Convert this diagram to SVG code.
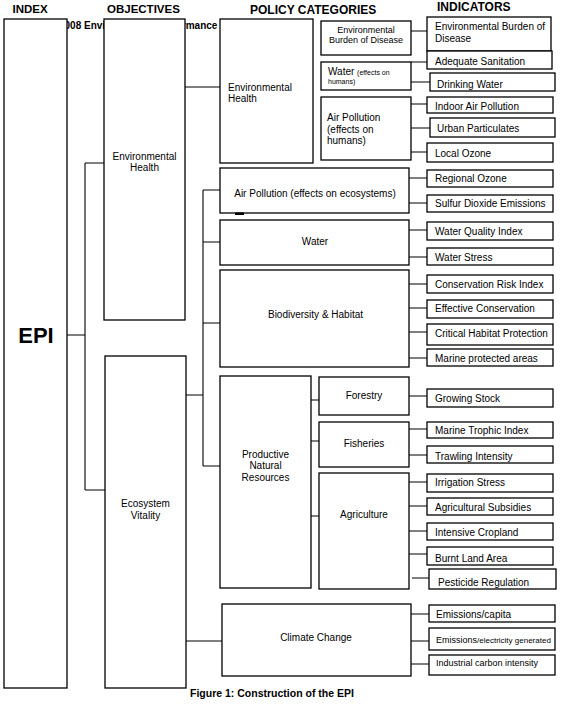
<svg xmlns="http://www.w3.org/2000/svg" width="568" height="712" viewBox="0 0 568 712">
<style>
text{font-family:"Liberation Sans",Arial,sans-serif;font-size:10px;fill:#000}
.h{font-weight:bold;font-size:11.5px}
.b{font-weight:bold}
.c{text-anchor:middle}
.box{fill:#fff;stroke:#000;stroke-width:1.3}
.ln{fill:none;stroke:#000;stroke-width:1.1}
.s9{font-size:9px}
.s7{font-size:7px}
</style>
<rect width="568" height="712" fill="#fff"/>
<g id="headers">
<text class="h" x="12.5" y="12.5">INDEX</text>
<text class="h" x="107" y="12.5">OBJECTIVES</text>
<text class="h" x="250" y="13.5" style="font-size:12px">POLICY CATEGORIES</text>
<text class="h" x="437" y="10.5" style="font-size:12px">INDICATORS</text>
</g>
<text class="b" x="59" y="29">2008 Environmental Performance Index</text>
<g id="connectors">
<path class="ln" d="M67 335H85M85 163V490M85 163H104M85 490H105"/>
<path class="ln" d="M185 87H220"/>
<path class="ln" d="M186 395H203M203 190V466M203 190H220M203 242H220M203 323H220M203 466H220"/>
<path class="ln" d="M186 641H222"/>
<path class="ln" d="M311 400H319M311 441H319M311 516H319"/>
<path class="ln" d="M411 31H427M411 62H427M411 82H430M411 104H427M411 128H430M411 152H427"/>
<path class="ln" d="M409 178H427M409 203H427M409 230H427M409 257H427M409 284H427M409 308H427M409 332H427M409 358H427"/>
<path class="ln" d="M409 396H427M409 429H427M409 455H427M409 482H427M409 506H427M409 531H427M409 554H427M412 578H429"/>
<path class="ln" d="M411 614H429M411 641H429M411 664H429"/>
</g>
<g id="epi"><rect class="box" x="4" y="19" width="63" height="669"/><text class="b c" x="36" y="343" style="font-size:22px">EPI</text></g>
<g id="obj-eh"><rect class="box" x="104" y="19" width="81" height="301"/><text class="c" x="144.5" y="159.5">Environmental</text><text class="c" x="144.5" y="170.5">Health</text></g>
<g id="obj-ev"><rect class="box" x="105" y="356" width="81" height="332"/><text class="c" x="145.5" y="506.5">Ecosystem</text><text class="c" x="145.5" y="518.5">Vitality</text></g>
<g id="pol-eh"><rect class="box" x="220" y="19" width="93" height="144"/><text x="228" y="90.5">Environmental</text><text x="228" y="101.5">Health</text></g>
<g id="pol-ebd"><rect class="box" x="321" y="21" width="90" height="34"/><text class="c s9" x="366" y="33">Environmental</text><text class="c s9" x="366" y="43">Burden of Disease</text></g>
<g id="pol-wh"><rect class="box" x="321" y="62" width="90" height="28"/><text x="328" y="75">Water <tspan class="s7">(effects on</tspan></text><text class="s7" x="328" y="84">humans)</text></g>
<g id="pol-aph"><rect class="box" x="321" y="97" width="90" height="63"/><text x="327" y="121">Air Pollution</text><text x="327" y="132.5">(effects on</text><text x="327" y="144">humans)</text></g>
<g id="pol-ape"><rect class="box" x="220" y="168" width="189" height="45"/><text class="c" x="315" y="196.5">Air Pollution (effects on ecosystems)</text></g>
<rect x="235" y="212.5" width="9" height="2.5" fill="#000"/>
<g id="pol-water"><rect class="box" x="220" y="220" width="189" height="45"/><text class="c" x="315" y="244.5">Water</text></g>
<g id="pol-bio"><rect class="box" x="220" y="270" width="189" height="97"/><text class="c" x="315.5" y="317.5">Biodiversity &amp; Habitat</text></g>
<g id="pol-pnr"><rect class="box" x="220" y="376" width="91" height="212"/><text class="c" x="265.5" y="457.5">Productive</text><text class="c" x="265.5" y="469">Natural</text><text class="c" x="265.5" y="480.5">Resources</text></g>
<g id="pol-forestry"><rect class="box" x="319" y="377" width="90" height="38"/><text class="c" x="364" y="399">Forestry</text></g>
<g id="pol-fisheries"><rect class="box" x="319" y="422" width="90" height="45"/><text class="c" x="364" y="446.5">Fisheries</text></g>
<g id="pol-agri"><rect class="box" x="319" y="473" width="90" height="116"/><text class="c" x="364" y="517.5">Agriculture</text></g>
<g id="pol-cc"><rect class="box" x="222" y="604" width="189" height="72"/><text class="c" x="316" y="640.5">Climate Change</text></g>
<g id="ind-ebd"><rect class="box" x="427" y="17" width="124" height="34"/><text x="435" y="29.5">Environmental Burden of</text><text x="435" y="41.5">Disease</text></g>
<g id="ind-sanitation"><rect class="box" x="427" y="51" width="125" height="18"/><text x="435" y="65">Adequate Sanitation</text></g>
<g id="ind-drinking"><rect class="box" x="430" y="73" width="125" height="18"/><text x="437" y="87.5">Drinking Water</text></g>
<g id="ind-indoor"><rect class="box" x="427" y="97" width="126" height="16"/><text x="435" y="109.5">Indoor Air Pollution</text></g>
<g id="ind-urban"><rect class="box" x="430" y="118" width="125" height="19"/><text x="437" y="131.5">Urban Particulates</text></g>
<g id="ind-localozone"><rect class="box" x="427" y="143" width="126" height="19"/><text x="435" y="156.5">Local Ozone</text></g>
<g id="ind-regozone"><rect class="box" x="427" y="170" width="126" height="17"/><text x="435" y="181.5">Regional Ozone</text></g>
<g id="ind-so2"><rect class="box" x="427" y="195" width="126" height="17"/><text x="435" y="206.5">Sulfur Dioxide Emissions</text></g>
<g id="ind-wqi"><rect class="box" x="427" y="222" width="126" height="18"/><text x="435" y="234.5">Water Quality Index</text></g>
<g id="ind-wstress"><rect class="box" x="427" y="248" width="126" height="17"/><text x="435" y="260.5">Water Stress</text></g>
<g id="ind-cri"><rect class="box" x="427" y="275" width="126" height="18"/><text x="435" y="287.5">Conservation Risk Index</text></g>
<g id="ind-effcons"><rect class="box" x="427" y="300" width="126" height="18"/><text x="435" y="312">Effective Conservation</text></g>
<g id="ind-chp"><rect class="box" x="427" y="324" width="126" height="21"/><text x="435" y="336.5">Critical Habitat Protection</text></g>
<g id="ind-mpa"><rect class="box" x="427" y="349" width="126" height="17"/><text x="435" y="362">Marine protected areas</text></g>
<g id="ind-growing"><rect class="box" x="427" y="389" width="126" height="18"/><text x="435" y="401.5">Growing Stock</text></g>
<g id="ind-mti"><rect class="box" x="427" y="422" width="126" height="16"/><text x="435" y="433.5">Marine Trophic Index</text></g>
<g id="ind-trawling"><rect class="box" x="427" y="446" width="126" height="17"/><text x="435" y="459.5">Trawling Intensity</text></g>
<g id="ind-irrigation"><rect class="box" x="427" y="474" width="126" height="18"/><text x="435" y="485.5">Irrigation Stress</text></g>
<g id="ind-subsidies"><rect class="box" x="427" y="498" width="126" height="17"/><text x="435" y="510.5">Agricultural Subsidies</text></g>
<g id="ind-cropland"><rect class="box" x="427" y="523" width="126" height="17"/><text x="435" y="535.5">Intensive Cropland</text></g>
<g id="ind-burnt"><rect class="box" x="427" y="547" width="126" height="18"/><text x="435" y="561.5">Burnt Land Area</text></g>
<g id="ind-pesticide"><rect class="box" x="429" y="569" width="127" height="20"/><text x="438" y="585.5">Pesticide Regulation</text></g>
<g id="ind-emcap"><rect class="box" x="429" y="605" width="126" height="17"/><text x="436" y="618">Emissions/capita</text></g>
<g id="ind-emelec"><rect class="box" x="429" y="628" width="126" height="22"/><text x="436" y="643" style="font-size:9px">Emissions<tspan style="font-size:8px">/electricity generated</tspan></text></g>
<g id="ind-industrial"><rect class="box" x="429" y="655" width="126" height="20"/><text x="436" y="666" class="s9">Industrial carbon intensity</text></g>
<text class="b" x="190" y="697" style="font-size:10.5px">Figure 1: Construction of the EPI</text>
</svg>
